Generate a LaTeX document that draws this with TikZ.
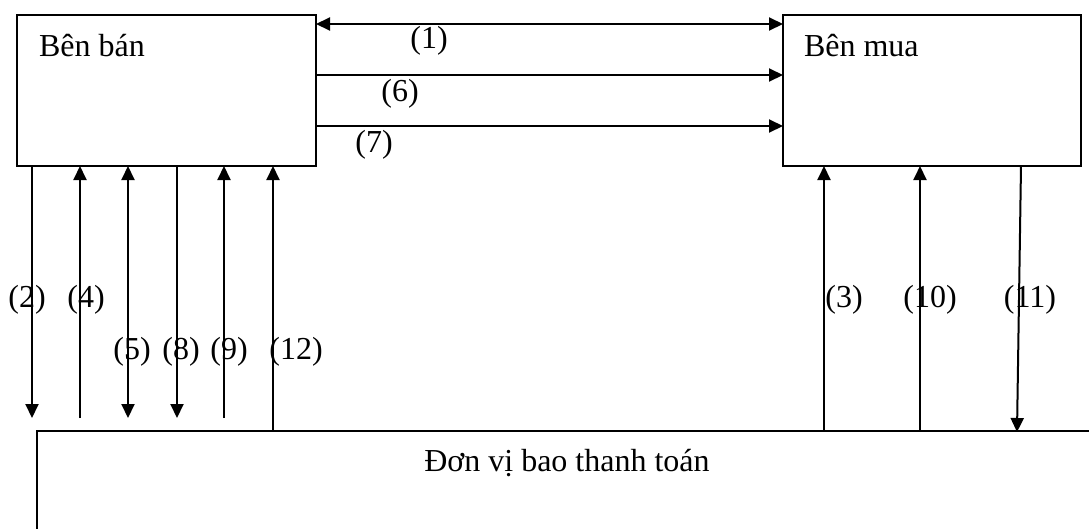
\documentclass[tikz,border=0pt]{standalone}
\usepackage{fontspec}
\setmainfont{Liberation Serif}
\usetikzlibrary{arrows.meta}
\begin{document}
\begin{tikzpicture}[x=1pt,y=-1pt, line width=2pt,
  >={Triangle[length=14pt,width=13pt]},
  box/.style={draw, line width=2pt, inner sep=0pt, outer sep=0pt, anchor=north west},
  txt/.style={font=\fontsize{32}{38}\selectfont, inner sep=0pt},
  conn/.style={line width=2pt}]
\useasboundingbox (0,0) rectangle (1089,528);
\fill[white] (0,0) rectangle (1089,528);
\clip (0,0) rectangle (1089,528);
% boxes
\node[box, minimum width=299pt, minimum height=151pt] (seller) at (17,15) {};
\node[box, minimum width=298pt, minimum height=151pt] (buyer) at (783,15) {};
\node[box, minimum width=1100pt, minimum height=160pt] (factor) at (37,431) {};
% box texts
\node[txt, anchor=base west] (tseller) at (38,56) {Bên bán};
\node[txt, anchor=base west] (tbuyer) at (803,56) {Bên mua};
\node[txt, anchor=base] (tfactor) at (567,471) {Đơn vị bao thanh toán};
% helper coordinates
\coordinate (r1) at (0,24);
\coordinate (r6) at (0,75);
\coordinate (r7) at (0,126);
\coordinate (b2) at (32,418);
\coordinate (b4) at (80,418);
\coordinate (b5) at (128,418);
\coordinate (b8) at (177,418);
\coordinate (b9) at (224,418);
\coordinate (c12) at (273,0);
\coordinate (c3) at (824,0);
\coordinate (c10) at (920,0);
\coordinate (t11) at (1021,0);
\coordinate (b11) at (1017,0);
% horizontal connectors
\draw[conn,<->] (seller.east |- r1) -- (buyer.west |- r1);
\draw[conn,->] (seller.east |- r6) -- (buyer.west |- r6);
\draw[conn,->] (seller.east |- r7) -- (buyer.west |- r7);
% left vertical connectors
\draw[conn,->] (seller.south -| b2) -- (b2);
\draw[conn,->] (b4) -- (seller.south -| b4);
\draw[conn,<->] (seller.south -| b5) -- (b5);
\draw[conn,->] (seller.south -| b8) -- (b8);
\draw[conn,->] (b9) -- (seller.south -| b9);
\draw[conn,->] (factor.north -| c12) -- (seller.south -| c12);
% right vertical connectors
\draw[conn,->] (factor.north -| c3) -- (buyer.south -| c3);
\draw[conn,->] (factor.north -| c10) -- (buyer.south -| c10);
\draw[conn,->] (buyer.south -| t11) -- ([yshift=-1pt]factor.north -| b11);
% labels
\node[txt] (l1) at (429,41) {(1)};
\node[txt] (l6) at (400,94) {(6)};
\node[txt] (l7) at (374,145) {(7)};
\node[txt] (l2) at (27,300) {(2)};
\node[txt] (l4) at (86,300) {(4)};
\node[txt] (l5) at (132,352) {(5)};
\node[txt] (l8) at (181,352) {(8)};
\node[txt] (l9) at (229,352) {(9)};
\node[txt] (l12) at (296,352) {(12)};
\node[txt] (l3) at (844,300) {(3)};
\node[txt] (l10) at (930,300) {(10)};
\node[txt] (l11) at (1030,300) {(11)};
\end{tikzpicture}
\end{document}
